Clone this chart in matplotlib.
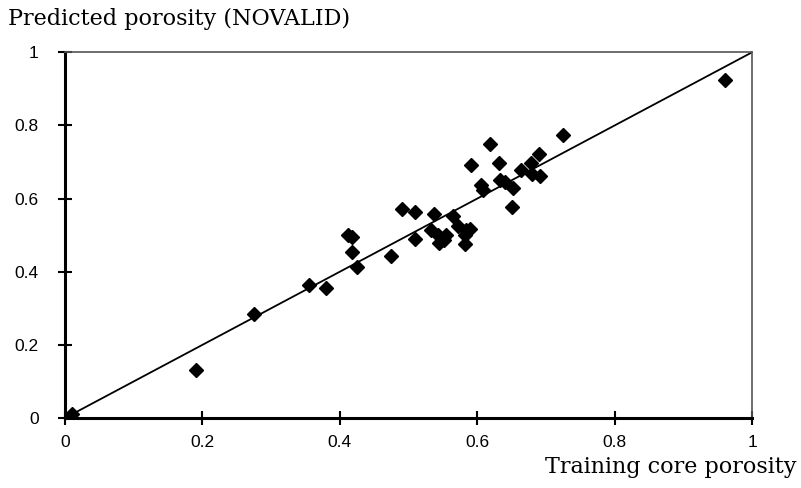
import numpy as np
import matplotlib
matplotlib.use('Agg')
import matplotlib.pyplot as plt

# training core porosity vs predicted porosity
core = [0.01, 0.19, 0.275, 0.355, 0.38, 0.412, 0.417, 0.417, 0.425, 0.474,
        0.490, 0.510, 0.510, 0.533, 0.537, 0.543, 0.544, 0.552, 0.555, 0.564,
        0.572, 0.582, 0.582, 0.584, 0.589, 0.591, 0.606, 0.608, 0.619, 0.631,
        0.633, 0.640, 0.650, 0.652, 0.663, 0.678, 0.679, 0.690, 0.691, 0.725,
        0.96]
pred = [0.01, 0.131, 0.285, 0.363, 0.355, 0.500, 0.495, 0.453, 0.412, 0.443,
        0.571, 0.562, 0.489, 0.514, 0.557, 0.500, 0.479, 0.486, 0.500, 0.553,
        0.525, 0.500, 0.475, 0.514, 0.518, 0.691, 0.637, 0.623, 0.748, 0.696,
        0.650, 0.646, 0.576, 0.628, 0.679, 0.696, 0.668, 0.723, 0.661, 0.773,
        0.925]
line_x = [0, 1]
line_y = [0, 1]
ticks = [0, 0.2, 0.4, 0.6, 0.8, 1]
tick_labels = ['0', '0.2', '0.4', '0.6', '0.8', '1']

fig = plt.figure(figsize=(8.01, 4.88), dpi=100)
ax = fig.add_axes([0.0811, 0.1434, 0.858, 0.7496])

ax.plot(line_x, line_y, color='black', lw=1.3, zorder=2)
ax.plot(core, pred, 'D', color='black', ms=7, zorder=3)

ax.set_xlim(0, 1)
ax.set_ylim(0, 1)
ax.set_xticks(ticks)
ax.set_yticks(ticks)
ax.set_xticklabels(tick_labels, family='Liberation Sans', fontsize=12.5)
ax.set_yticklabels(tick_labels, family='Liberation Sans', fontsize=12.5)
ax.tick_params(axis='x', direction='inout', length=10, width=1.5, pad=7)
ax.tick_params(axis='y', direction='inout', length=10, width=1.5, pad=14)

for s in ['left', 'bottom']:
    ax.spines[s].set_linewidth(2.2)
    ax.spines[s].set_color('black')
for s in ['top', 'right']:
    ax.spines[s].set_linewidth(1.2)
    ax.spines[s].set_color('#555555')

fig.text(0.01, 0.962, 'Predicted porosity (NOVALID)', family='DejaVu Serif',
         fontsize=16, va='center', ha='left')
fig.text(0.995, 0.043, 'Training core porosity', family='DejaVu Serif',
         fontsize=16, va='center', ha='right')

fig.savefig('out.png', dpi=100)
